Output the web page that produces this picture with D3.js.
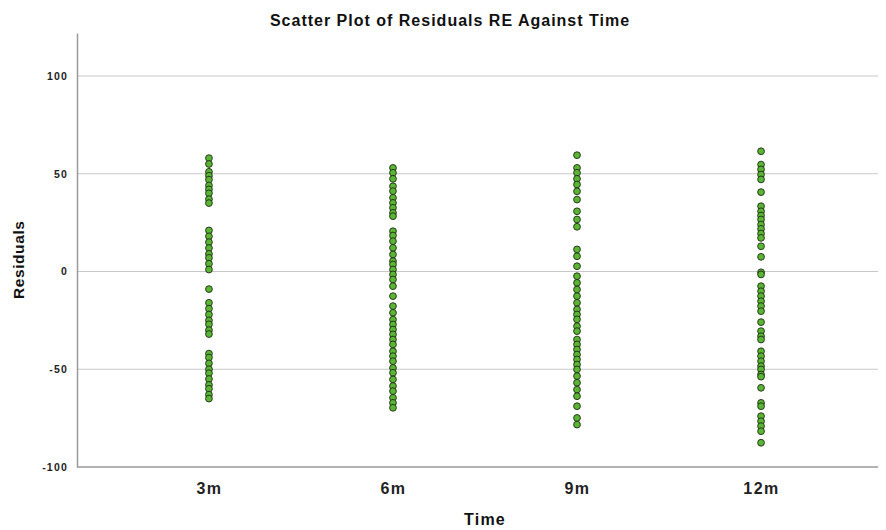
<!DOCTYPE html>
<html>
<head>
<meta charset="utf-8">
<script src="https://cdn.jsdelivr.net/npm/d3@7/dist/d3.min.js"></script>
<style>
  body { margin: 0; background: #fff; }
  svg { display: block; font-family: "Liberation Sans", Arial, Helvetica, sans-serif; }
</style>
</head>
<body>
<svg id="chart" width="886" height="530"></svg>
<script>
const categories = ["3m", "6m", "9m", "12m"];
const yTicks = [-100, -50, 0, 50, 100];
const res3m = [58, 55, 51, 49, 47, 44, 42, 40, 37, 35,
  21, 18, 15, 12, 9, 7, 4, 1,
  -9,
  -16, -19, -22, -25, -27, -30, -32,
  -42, -44, -47, -50, -52, -55, -58, -60, -63, -65];
const res6m = [53, 50.5, 47.4, 43.6, 41.1, 37.7, 35.1, 32.6, 30, 28.3,
  20.6, 18.4, 15.5, 12.1, 8.7, 5.3, 3.6, 1, -1.5, -4.1, -7.5, -12.6, -17.7, -21.1,
  -24.6, -27.1, -29.7, -32.2, -34.8, -37.3, -40.8, -43.3, -45.9, -49.3, -51.8,
  -55.2, -58.6, -61.2, -64.6, -67.2, -69.7];
const res9m = [59.5, 53, 50.5, 47.4, 44.5, 41, 36.8, 30.8, 26.6, 22.9,
  11.3, 7.8, 2.7, -2.4, -5.8, -9.2, -12.6, -16, -19.4, -22, -24.5, -28, -30.5,
  -34.8, -37.3, -39.9, -42.5, -45, -47.6, -50.1, -53.5, -56.9, -60.4, -63.8,
  -68.9, -74.9, -78.3];
const res12m = [61.5, 54.7, 52.2, 49.6, 47.1, 40.6, 33.4, 30.8, 28.6, 26.6, 24,
  21.8, 19.4, 17.2, 12.9, 7.5, -0.4, -1.5, -7.5, -10.1, -12.6, -15.2, -17.7, -20.3,
  -25.9, -30.5, -33.1, -34.8, -40.8, -43.3, -45.9, -48.4, -50.1, -52.7, -53.8,
  -59.5, -67.2, -68.9, -74, -76.6, -79.1, -81.7, -87.6];
const seriesByCat = [res3m, res6m, res9m, res12m];

const points = [];
categories.forEach((c, i) => seriesByCat[i].forEach(v => points.push({cat: c, v})));

const svg = d3.select("#chart");
const mLeft = 77, mRight = 878, mTop = 33, mBottom = 467;

const x = d3.scalePoint().domain(categories).range([mLeft, 893]).padding(0.717);
const y = d3.scaleLinear().domain([-100, 122]).range([mBottom, mTop]);

// gridlines
svg.append("g").selectAll("line")
  .data(yTicks.filter(t => t > -100))
  .join("line")
  .attr("x1", mLeft).attr("x2", mRight)
  .attr("y1", d => y(d)).attr("y2", d => y(d))
  .attr("stroke", "#c8c8c8").attr("stroke-width", 1.2);

// y axis
const yAxis = svg.append("g")
  .attr("transform", `translate(${mLeft},0)`)
  .call(d3.axisLeft(y).tickValues(yTicks).tickFormat(d => String(d)).tickSize(0).tickPadding(9));
yAxis.select(".domain").attr("stroke", "#9a9a9a").attr("stroke-width", 1.5);
yAxis.selectAll("text")
  .attr("font-size", 10.5).attr("font-weight", "bold").attr("fill", "#222")
  .attr("letter-spacing", "1.2px")
  .attr("font-family", "'Liberation Sans', Arial, sans-serif");

// x axis
const xAxis = svg.append("g")
  .attr("transform", `translate(0,${mBottom})`)
  .call(d3.axisBottom(x).tickSize(0).tickPadding(16));
xAxis.select(".domain").attr("d", `M${mLeft},0H${mRight}`)
  .attr("stroke", "#9a9a9a").attr("stroke-width", 1.5);
xAxis.selectAll("text")
  .attr("font-size", 16).attr("font-weight", "bold").attr("fill", "#222")
  .attr("letter-spacing", "1.5px")
  .attr("font-family", "'Liberation Sans', Arial, sans-serif");

// points
svg.append("g").selectAll("circle")
  .data(points)
  .join("circle")
  .attr("cx", d => x(d.cat))
  .attr("cy", d => y(d.v))
  .attr("r", 3.4)
  .attr("fill", "#5ab532")
  .attr("stroke", "#1e2a18")
  .attr("stroke-width", 0.9);

// title
svg.append("text")
  .attr("x", 450).attr("y", 26)
  .attr("text-anchor", "middle")
  .attr("font-size", 16).attr("font-weight", "bold").attr("fill", "#111")
  .attr("letter-spacing", "1px")
  .text("Scatter Plot of Residuals RE Against Time");

// axis titles
svg.append("text")
  .attr("x", 485).attr("y", 525)
  .attr("text-anchor", "middle")
  .attr("font-size", 16).attr("font-weight", "bold").attr("fill", "#111")
  .attr("letter-spacing", "1.2px")
  .text("Time");

svg.append("text")
  .attr("transform", `translate(24,${y(6)}) rotate(-90)`)
  .attr("text-anchor", "middle")
  .attr("font-size", 15.5).attr("font-weight", "bold").attr("fill", "#111")
  .attr("letter-spacing", "0.6px")
  .text("Residuals");
</script>
</body>
</html>
